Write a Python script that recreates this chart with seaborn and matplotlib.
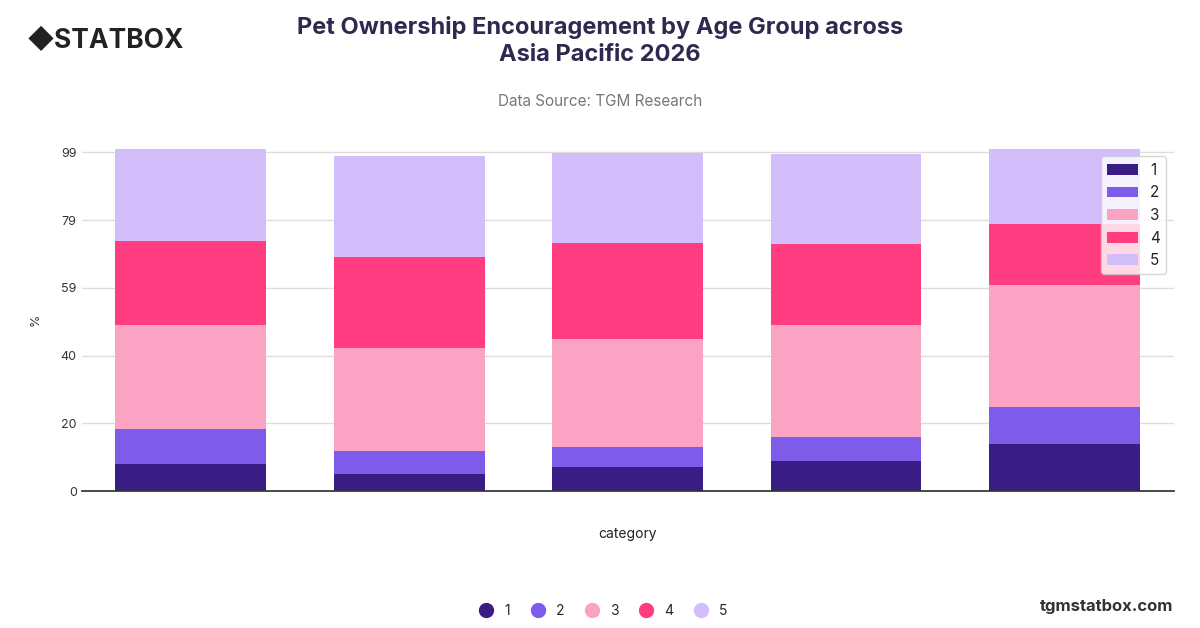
import matplotlib
matplotlib.use("Agg")
import matplotlib.pyplot as plt
import seaborn as sns
import numpy as np
import pandas as pd

categories = ["A", "B", "C", "D", "E"]
s1 = [8, 5, 7, 8.8, 13.8]
s2 = [10, 6.8, 6, 7, 10.9]
s3 = [30.5, 30, 31.5, 32.6, 35.5]
s4 = [24.6, 26.5, 27.9, 23.8, 17.9]
s5 = [26.9, 29.5, 26.3, 26.4, 21.8]
series_names = ["1", "2", "3", "4", "5"]
colors = ["#3a1c85", "#7c5ce8", "#fba3c2", "#ff3d80", "#d4bdfb"]
yticks = [0, 19.8, 39.6, 59.4, 79.2, 99]
yticklabels = ["0", "20", "40", "59", "79", "99"]

sns.set_theme(style="white")
plt.rcParams['font.family'] = ['Inter', 'DejaVu Sans']
fig = plt.figure(figsize=(12, 6.28), dpi=100)
ax = fig.add_axes([0.068, 0.218, 0.91, 0.545])

data = [s1, s2, s3, s4, s5]
bottom = np.zeros(len(categories))
for name, vals, c in zip(series_names, data, colors):
    df = pd.DataFrame({"cat": categories, "v": vals})
    sns.barplot(data=df, x="cat", y="v", bottom=bottom, color=c, width=0.69,
                ax=ax, saturation=1, label=name, edgecolor="none")
    bottom = bottom + np.array(vals)

ax.set_ylim(0, 100)
ax.set_yticks(yticks)
ax.set_yticklabels(yticklabels, fontsize=9, color="#333")
ax.yaxis.grid(True, color="#dddddd", lw=1)
ax.set_axisbelow(True)
ax.set_xticklabels([])
ax.tick_params(axis="both", length=0)
ax.set_xlabel("category", fontsize=10, color="#222", labelpad=22)
ax.set_ylabel("%", fontsize=9, color="#333", labelpad=14)
for s in ["top", "right", "left"]:
    ax.spines[s].set_visible(False)
ax.spines["bottom"].set_color("#333")
ax.set_xlim(-0.5, 4.5)

fig.text(0.5, 0.935, "Pet Ownership Encouragement by Age Group across\nAsia Pacific 2026",
         ha="center", va="center", fontsize=17, fontweight="bold", color="#2e2a4f", linespacing=1.3)
fig.text(0.5, 0.838, "Data Source: TGM Research", ha="center", va="center", fontsize=11, color="#777")
fig.text(0.022, 0.935, "◆STATBOX", ha="left", va="center", fontsize=19, fontweight="bold", color="#222")
fig.text(0.978, 0.035, "tgmstatbox.com", ha="right", va="center", fontsize=12, fontweight="bold", color="#333")

from matplotlib.lines import Line2D
handles = [Line2D([], [], marker="o", ls="", markersize=10, color=c) for c in colors]
fig.legend(handles, series_names, loc="center", bbox_to_anchor=(0.5, 0.027), ncol=5,
           frameon=False, fontsize=10, handletextpad=0.3, columnspacing=1.0)

fig.savefig("out.png", dpi=100)
